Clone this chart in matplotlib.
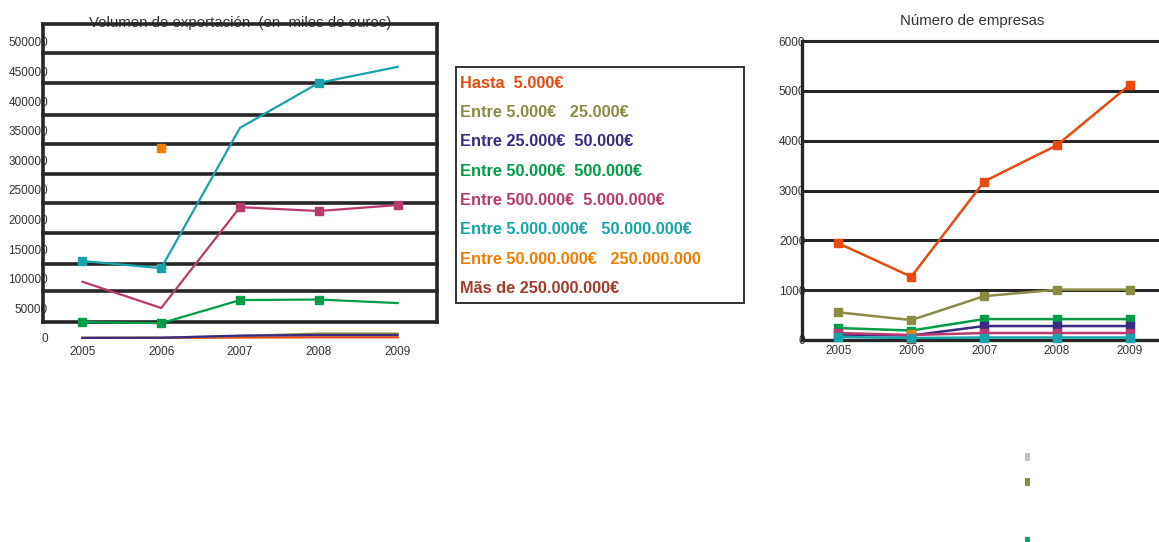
import numpy as np
import matplotlib.pyplot as plt
from matplotlib.patches import Rectangle

plt.rcParams['font.family'] = ['Liberation Sans', 'DejaVu Sans']

W, H = 1159, 542
years = [2005, 2006, 2007, 2008, 2009]

# tramos de exportacion (mismo orden que la leyenda)
labels = ["Hasta  5.000€", "Entre 5.000€   25.000€", "Entre 25.000€  50.000€",
          "Entre 50.000€  500.000€", "Entre 500.000€  5.000.000€",
          "Entre 5.000.000€   50.000.000€", "Entre 50.000.000€   250.000.000",
          "Mãs de 250.000.000€"]
colors = ['#e84a0c', '#8b8b43', '#3b2a82', '#009c48', '#b83a6e',
          '#16a3aa', '#f07d00', '#a33a2e']

nan = np.nan
# volumen de exportacion (miles de euros)
vol_hasta5k = [100, 200, 800, 1200, 1200]
vol_5k_25k = [300, 500, 3500, 7500, 7500]
vol_25k_50k = [200, 400, 4000, 5000, 5000]
vol_50k_500k = [27000, 25000, 64000, 65000, 59000]
vol_500k_5m = [95000, 50700, 221000, 214500, 224600]
vol_5m_50m = [130000, 118000, 355000, 431000, 458000]
vol_50m_250m = [nan, 321000, nan, nan, nan]

# numero de empresas
emp_hasta5k = [1940, 1270, 3180, 3910, 5120]
emp_5k_25k = [555, 400, 880, 1010, 1010]
emp_25k_50k = [110, 90, 280, 280, 280]
emp_50k_500k = [240, 190, 420, 420, 420]
emp_500k_5m = [140, 100, 140, 140, 140]
emp_5m_50m = [60, 40, 50, 50, 50]
emp_50m_250m = [nan, 130, nan, nan, nan]
emp_mas250m = [nan, 30, nan, nan, nan]

# lineas gruesas del recuadro izquierdo (valores leidos)
box_lines = [530400, 481400, 430700, 376700, 327700, 277000,
             228000, 177400, 125000, 79400, 27000]


def px(l, t, r, b):
    return [l / W, 1 - b / H, (r - l) / W, (b - t) / H]


fig = plt.figure(figsize=(W / 100, H / 100), dpi=100)

# ---- grafico izquierdo ----
ax1 = fig.add_axes(px(43, 24, 437, 338))
ax1.set_xlim(2004.5, 2009.5)
ax1.set_ylim(0, 530400)
for s in ax1.spines.values():
    s.set_visible(False)
for v in box_lines:
    ax1.axhline(v, color='#262626', lw=2.6, zorder=2, clip_on=False)
for xv in (2004.5, 2009.5):
    ax1.axvline(xv, ymin=(338 - 322) / 314, ymax=1, color='#262626', lw=2.6,
                zorder=2, clip_on=False)

vol_series = [(vol_hasta5k, 0, []), (vol_5k_25k, 1, []), (vol_25k_50k, 2, []),
              (vol_50k_500k, 3, [0, 1, 2, 3]), (vol_500k_5m, 4, [2, 3, 4]),
              (vol_5m_50m, 5, [0, 1, 3]), (vol_50m_250m, 6, [1])]
for vals, ci, mk in vol_series:
    ax1.plot(years, vals, '-', color=colors[ci], lw=1.6, marker='s', ms=5.5,
             markevery=mk, zorder=3, clip_on=False)

ax1.set_yticks(range(0, 500001, 50000))
ax1.set_yticklabels([str(v) for v in range(0, 500001, 50000)])
ax1.set_xticks(years)
ax1.tick_params(axis='y', length=0, pad=-3.6, labelsize=8.5, labelcolor='#333333')
ax1.tick_params(axis='x', length=0, pad=5.5, labelsize=8.5, labelcolor='#333333')
ax1.text(0.5, 0.991, 'Volumen de exportación  (en  miles de euros)',
         transform=ax1.transAxes, ha='center', va='baseline', fontsize=10.8,
         color='#333333', zorder=1)

# ---- leyenda ----
axl = fig.add_axes(px(456, 67, 744, 303))
axl.set_xticks([])
axl.set_yticks([])
for s in axl.spines.values():
    s.set_linewidth(1.4)
    s.set_color('#333333')
for i, (lab, c) in enumerate(zip(labels, colors)):
    axl.text(0.014, 1 - (83 - 67 + i * 29.4) / 236, lab, color=c,
             fontsize=11.8, fontweight='bold', va='center', ha='left',
             family=['Liberation Sans Narrow', 'Liberation Sans', 'DejaVu Sans'])

# ---- grafico derecho ----
ax2 = fig.add_axes(px(802, 41, 1159, 340))
ax2.set_xlim(2004.5, 2009.4)
ax2.set_ylim(0, 6000)
for k in ('top', 'right'):
    ax2.spines[k].set_visible(False)
for k in ('left', 'bottom'):
    ax2.spines[k].set_linewidth(2.4)
    ax2.spines[k].set_color('#262626')
for v in range(1000, 6001, 1000):
    ax2.axhline(v, color='#262626', lw=2.2, zorder=1, clip_on=False)

emp_series = [(emp_hasta5k, 0), (emp_5k_25k, 1), (emp_50k_500k, 3),
              (emp_25k_50k, 2), (emp_500k_5m, 4), (emp_50m_250m, 6),
              (emp_mas250m, 7), (emp_5m_50m, 5)]
for vals, ci in emp_series:
    ax2.plot(years, vals, '-', color=colors[ci], lw=1.8, marker='s', ms=5.8,
             zorder=3, clip_on=False)

ax2.set_yticks(range(0, 6001, 1000))
ax2.set_xticks(years)
ax2.tick_params(axis='y', length=0, pad=-2.4, labelsize=8.5, labelcolor='#333333')
ax2.tick_params(axis='x', length=0, pad=3.5, labelsize=8.5, labelcolor='#333333')
ax2.text(0.477, 1.055, 'Número de empresas', transform=ax2.transAxes,
         ha='center', va='baseline', fontsize=10.8, color='#333333')

# restos de leyenda abajo a la derecha
for (t, b), c in zip([(453, 461), (478, 486), (537, 542)],
                     ['#c3c3cb', '#8a8a48', '#10a070']):
    fig.add_artist(Rectangle((1025 / W, 1 - b / H), 5 / W, (b - t) / H,
                             transform=fig.transFigure, color=c, lw=0))

fig.savefig('out.png', dpi=100)
